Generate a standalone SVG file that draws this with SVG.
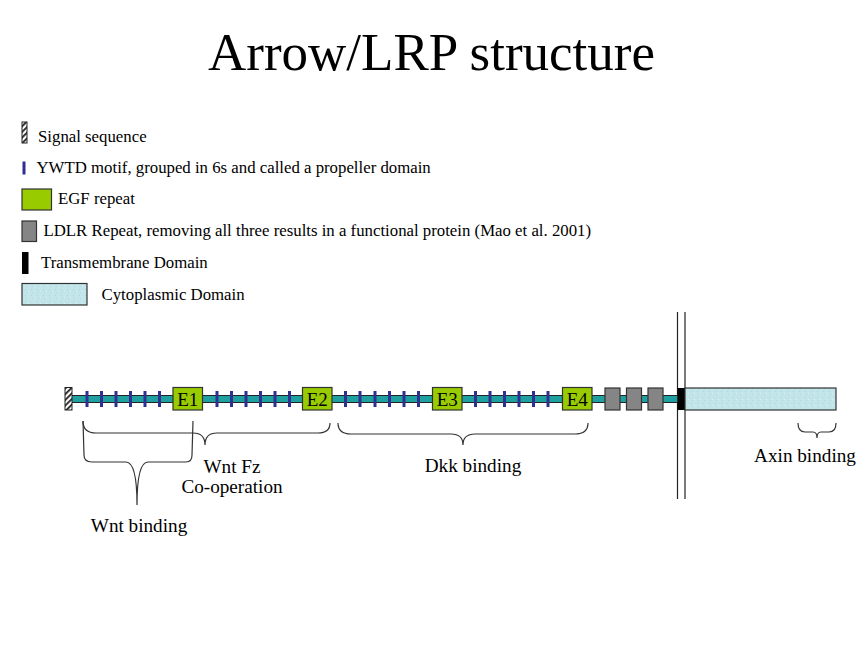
<svg xmlns="http://www.w3.org/2000/svg" width="864" height="648" viewBox="0 0 864 648">
<defs>
<pattern id="hatch" width="4" height="4" patternUnits="userSpaceOnUse" patternTransform="rotate(45)">
<rect width="4" height="4" fill="#fff"/>
<rect width="1.8" height="4" fill="#222"/>
</pattern>
<pattern id="speck" width="6" height="6" patternUnits="userSpaceOnUse">
<rect width="6" height="6" fill="#C2E5EA"/>
<rect x="1" y="1" width="1" height="1" fill="#A9D6DC"/>
<rect x="4" y="3" width="1" height="1" fill="#DDF1F3"/>
<rect x="2" y="4" width="1" height="1" fill="#B0D9DF"/>
</pattern>
</defs>
<style>
text{font-family:"Liberation Serif","Times New Roman",serif;fill:#000}
.title{font-size:53px}
.leg{font-size:16.8px}
.lab{font-size:19.2px}
.egf{fill:#99CC00;stroke:#333;stroke-width:1.2}
.ldlr{fill:#858585;stroke:#333;stroke-width:1.2}
.tick{fill:#2E3192}
.brace{fill:none;stroke:#333;stroke-width:1.2}
.mem{stroke:#222;stroke-width:1.2}
.etxt{font-size:19px;text-anchor:middle}
</style>
<rect width="864" height="648" fill="#fff"/>
<text class="title" x="431.5" y="70" text-anchor="middle">Arrow/LRP structure</text>

<g id="legend">
<g id="leg-signal"><rect x="22" y="122" width="5" height="21" fill="url(#hatch)" stroke="#222" stroke-width="1"/><text class="leg" x="38" y="141.5">Signal sequence</text></g>
<g id="leg-ywtd"><rect x="22.5" y="161.5" width="3" height="13" class="tick"/><text class="leg" x="36.5" y="172.5">YWTD motif, grouped in 6s and called a propeller domain</text></g>
<g id="leg-egf"><rect x="22" y="189" width="29.5" height="21" class="egf"/><text class="leg" x="58" y="204">EGF repeat</text></g>
<g id="leg-ldlr"><rect x="22" y="221" width="14.5" height="20.5" class="ldlr"/><text class="leg" x="43.5" y="235.5">LDLR Repeat, removing all three results in a functional protein (Mao et al. 2001)</text></g>
<g id="leg-tm"><rect x="22" y="252" width="6.5" height="22" fill="#000"/><text class="leg" x="41" y="267.5">Transmembrane Domain</text></g>
<g id="leg-cyto"><rect x="22" y="283.5" width="65" height="21.5" fill="url(#speck)" stroke="#333" stroke-width="1.2"/><text class="leg" x="101.5" y="300">Cytoplasmic Domain</text></g>
</g>

<g id="membrane">
<line x1="677.5" y1="312" x2="677.5" y2="499" class="mem"/>
<line x1="685" y1="312" x2="685" y2="499" class="mem"/>
</g>

<g id="protein">
<rect id="backbone" x="70" y="395.5" width="608" height="7" fill="#1FA0A0" stroke="#222" stroke-width="1"/>
<g id="ticks">
<rect x="85.5" y="391" width="3" height="16" class="tick"/>
<rect x="100" y="391" width="3" height="16" class="tick"/>
<rect x="114.5" y="391" width="3" height="16" class="tick"/>
<rect x="129" y="391" width="3" height="16" class="tick"/>
<rect x="143.5" y="391" width="3" height="16" class="tick"/>
<rect x="158" y="391" width="3" height="16" class="tick"/>
<rect x="215.5" y="391" width="3" height="16" class="tick"/>
<rect x="230" y="391" width="3" height="16" class="tick"/>
<rect x="244.5" y="391" width="3" height="16" class="tick"/>
<rect x="259" y="391" width="3" height="16" class="tick"/>
<rect x="273.5" y="391" width="3" height="16" class="tick"/>
<rect x="288" y="391" width="3" height="16" class="tick"/>
<rect x="344" y="391" width="3" height="16" class="tick"/>
<rect x="358.5" y="391" width="3" height="16" class="tick"/>
<rect x="373.5" y="391" width="3" height="16" class="tick"/>
<rect x="388" y="391" width="3" height="16" class="tick"/>
<rect x="402.5" y="391" width="3" height="16" class="tick"/>
<rect x="417" y="391" width="3" height="16" class="tick"/>
<rect x="474" y="391" width="3" height="16" class="tick"/>
<rect x="488.5" y="391" width="3" height="16" class="tick"/>
<rect x="503" y="391" width="3" height="16" class="tick"/>
<rect x="517.5" y="391" width="3" height="16" class="tick"/>
<rect x="532" y="391" width="3" height="16" class="tick"/>
<rect x="546.5" y="391" width="3" height="16" class="tick"/>
</g>
<g id="signal"><rect x="65" y="387.5" width="7" height="22.5" fill="url(#hatch)" stroke="#222" stroke-width="1"/></g>
<g id="E1"><rect x="173" y="387.5" width="29.5" height="22.5" class="egf"/><text class="etxt" x="187.8" y="406">E1</text></g>
<g id="E2"><rect x="302.5" y="387.5" width="29.5" height="22.5" class="egf"/><text class="etxt" x="317.3" y="406">E2</text></g>
<g id="E3"><rect x="432.5" y="387.5" width="29.5" height="22.5" class="egf"/><text class="etxt" x="447.3" y="406">E3</text></g>
<g id="E4"><rect x="562.5" y="387.5" width="29.5" height="22.5" class="egf"/><text class="etxt" x="577.3" y="406">E4</text></g>
<g id="L1"><rect x="605" y="388" width="15" height="22" class="ldlr"/></g>
<g id="L2"><rect x="626.5" y="388" width="15" height="22" class="ldlr"/></g>
<g id="L3"><rect x="648" y="388" width="15" height="22" class="ldlr"/></g>
<g id="TM"><rect x="677.5" y="388" width="7.5" height="22" fill="#000"/></g>
<g id="cyto"><rect x="685" y="388" width="151" height="22" fill="url(#speck)" stroke="#333" stroke-width="1.2"/></g>
</g>

<g id="braces">
<path class="brace" d="M83,421 Q83,433 96,433 L193,433 Q205,433 205,445 Q205,433 217,433 L318,433 Q330,433 330,423"/>
<path class="brace" d="M83,421 L84,455 Q84,462 92,462 L126,462 Q137,462 137,505 Q137,462 148,462 L186,462 Q192,462 192,455 L193,421"/>
<path class="brace" d="M338,423 Q338,434 351,434 L451,434 Q463,434 463,445 Q463,434 475,434 L575,434 Q588,434 588,423"/>
<path class="brace" d="M798,423 Q798,432 805,432 L813,432 Q817,432 817,438 Q817,432 821,432 L829,432 Q836,432 836,423"/>
</g>

<g id="labels">
<text class="lab" x="232" y="473" text-anchor="middle">Wnt Fz</text>
<text class="lab" x="232" y="493" text-anchor="middle">Co-operation</text>
<text class="lab" x="139" y="532" text-anchor="middle">Wnt binding</text>
<text class="lab" x="473" y="472" text-anchor="middle">Dkk binding</text>
<text class="lab" x="805" y="462" text-anchor="middle">Axin binding</text>
</g>
</svg>
